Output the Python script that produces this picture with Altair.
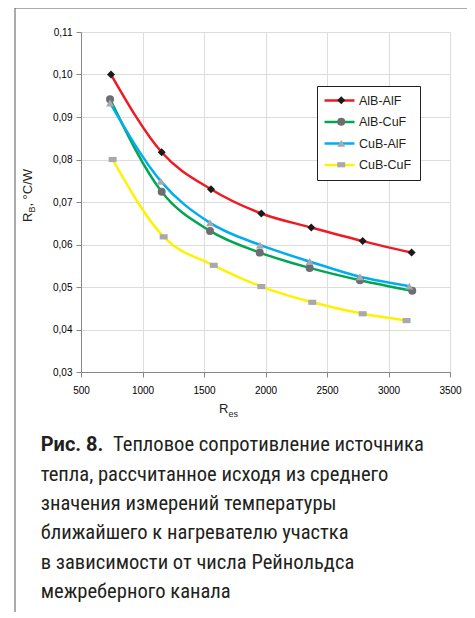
import altair as alt
import pandas as pd

series = ["AlB-AlF", "AlB-CuF", "CuB-AlF", "CuB-CuF"]
line_colors = ["#ed1c24", "#00a651", "#00aeef", "#fff200"]
marker_fills = ["#1a1a1a", "#6d6e71", "#a7a9ac", "#a7a9ac"]
marker_shapes = ["diamond", "circle", "triangle-up", "M-1,-0.65L1,-0.65L1,0.65L-1,0.65Z"]

x_albalf = [744, 1156, 1557, 1966, 2372, 2790, 3188]
y_albalf = [0.1000, 0.0817, 0.0730, 0.0673, 0.0640, 0.0608, 0.0581]
x_albcuf = [736, 1156, 1549, 1953, 2359, 2768, 3193]
y_albcuf = [0.0942, 0.0724, 0.0632, 0.0581, 0.0545, 0.0516, 0.0491]
x_cubalf = [736, 1148, 1549, 1955, 2359, 2768, 3169]
y_cubalf = [0.0933, 0.0749, 0.0651, 0.0599, 0.0560, 0.0524, 0.0502]
x_cubcuf = [757, 1172, 1579, 1966, 2380, 2790, 3147]
y_cubcuf = [0.0800, 0.0618, 0.0551, 0.0501, 0.0464, 0.0437, 0.0421]

y_ticks = [0.03, 0.04, 0.05, 0.06, 0.07, 0.08, 0.09, 0.10, 0.11]
x_ticks = [500, 1000, 1500, 2000, 2500, 3000, 3500]

caption_bold = "Рис. 8."
caption_first = "Тепловое сопротивление источника"
caption_rest = [
    "тепла, рассчитанное исходя из среднего",
    "значения измерений температуры",
    "ближайшего к нагревателю участка",
    "в зависимости от числа Рейнольдса",
    "межреберного канала",
]

markers = [s + " (marker)" for s in series]

rows = []
for name, mk, xs, ys in zip(series, markers,
                            [x_albalf, x_albcuf, x_cubalf, x_cubcuf],
                            [y_albalf, y_albcuf, y_cubalf, y_cubcuf]):
    for i, (xv, yv) in enumerate(zip(xs, ys)):
        rows.append({"series": name, "marker": mk, "order": i, "Re": xv, "R": yv})
df = pd.DataFrame(rows)

AX_FONT = "Liberation Sans"
CAP_FONT = "'Roboto Condensed', 'DejaVu Sans Condensed', Roboto"
BOLD_FONT = "Roboto"
INK = "#231f20"

x_enc = alt.X("Re:Q", scale=alt.Scale(domain=[500, 3500], nice=False),
              axis=alt.Axis(values=x_ticks, format="d", title=None, grid=True,
                            labelPadding=8, labelFlush=False))
y_enc = alt.Y("R:Q", scale=alt.Scale(domain=[0.03, 0.11], nice=False, zero=False),
              axis=alt.Axis(values=y_ticks, title=None, grid=True, labelPadding=4,
                            labelExpr="replace(format(datum.value, '.2f'), '.', ',')"))

base = alt.Chart(df)

LEG_X, LEG_Y = 236, 54

lines = base.mark_line(interpolate="monotone", strokeWidth=2.5).encode(
    x=x_enc, y=y_enc,
    order="order:Q",
    color=alt.Color("series:N",
                    scale=alt.Scale(domain=series, range=line_colors),
                    legend=alt.Legend(orient="none", legendX=LEG_X, legendY=LEG_Y, title=None,
                                      symbolType="M-3,0H3", symbolSize=100,
                                      symbolStrokeWidth=2.5, symbolOffset=8,
                                      labelOffset=13, labelFont=AX_FONT, labelFontSize=12.5,
                                      labelColor=INK, padding=8, rowPadding=8.5,
                                      fillColor="white", strokeColor=INK)),
)

marker_legend = alt.Legend(orient="none", legendX=LEG_X, legendY=LEG_Y, title=None,
                           symbolSize=64, symbolStrokeWidth=0, symbolOffset=10,
                           labelFont=AX_FONT, labelFontSize=12.5, labelExpr="' '",
                           padding=8, rowPadding=8.5)

points = base.mark_point(filled=True, opacity=1, size=64, strokeWidth=0).encode(
    x="Re:Q", y="R:Q",
    shape=alt.Shape("marker:N", scale=alt.Scale(domain=markers, range=marker_shapes),
                    legend=marker_legend),
    fill=alt.Fill("marker:N", scale=alt.Scale(domain=markers, range=marker_fills),
                  legend=marker_legend),
)

one = pd.DataFrame({"t": [""]})

frame = alt.Chart(one).mark_rect(filled=False, stroke="#58595b", strokeWidth=1).encode(
    x=alt.value(-66), x2=alt.value(391.5), y=alt.value(-24), y2=alt.value(640))

def txt(text, x, y, size, font=AX_FONT, weight="normal", angle=0, baseline="alphabetic",
        line_height=None):
    kw = dict(align="left", baseline=baseline, font=font, fontSize=size,
              fontWeight=weight, color=INK, angle=angle)
    if line_height is not None:
        kw.update(lineBreak="\n", lineHeight=line_height)
    return alt.Chart(pd.DataFrame({"t": [text]})).mark_text(**kw).encode(
        x=alt.value(x), y=alt.value(y), text="t:N")

ytitle = (txt("R", -49, 190, 13, angle=270)
          + txt("B", -46, 180.6, 9, angle=270)
          + txt(", °C/W", -49, 174.6, 13, angle=270))
xtitle = txt("R", 138, 381, 13) + txt("es", 147.4, 385, 9)

cap = (txt(caption_bold, -40.3, 419, 20, font=BOLD_FONT, weight="bold")
       + txt(caption_first, 32, 419, 20.6, font=CAP_FONT)
       + txt("\n".join(caption_rest), -40.3, 433, 20.6, font=CAP_FONT,
             baseline="top", line_height=29.2))

chart = alt.layer(frame, lines, points, ytitle, xtitle, cap).properties(
    width=369, height=340,
    autosize=alt.AutoSizeParams(type="none"),
    padding={"left": 73, "top": 24, "right": 17, "bottom": 240},
).configure_view(
    fill="#e6e7e8", stroke=INK, strokeWidth=1.5
).configure_axis(
    gridColor=INK, gridWidth=1.3, gridOpacity=1,
    domainColor=INK, domainWidth=2, tickColor=INK, tickSize=4, tickWidth=1.3,
    labelFont=AX_FONT, labelFontSize=13, labelColor=INK,
).configure(background="white")

chart.save("out.html", embed_options={"renderer": "svg", "actions": False})
